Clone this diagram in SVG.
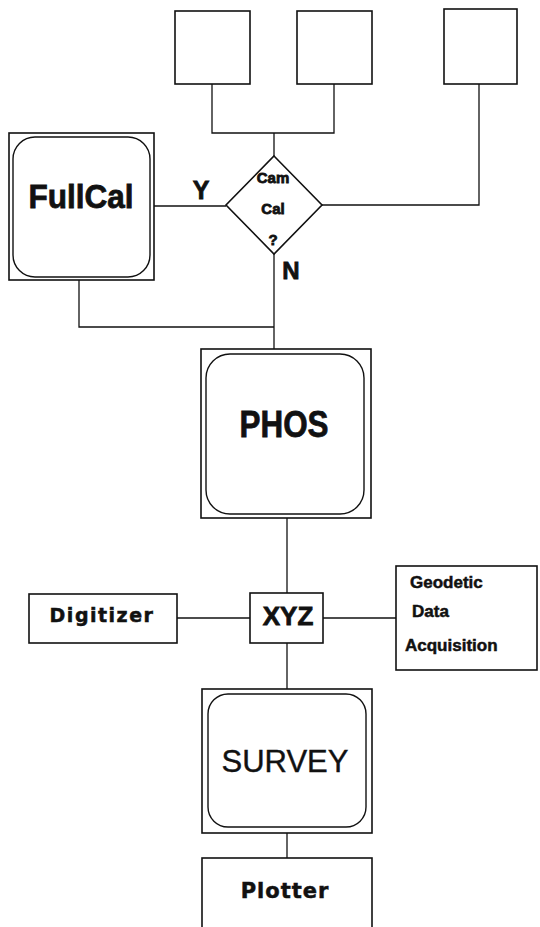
<svg xmlns="http://www.w3.org/2000/svg" width="540" height="927" viewBox="0 0 540 927">
<style>
.box{fill:#fff;stroke:#111;stroke-width:1.6}
.inner{fill:#fff;stroke:#111;stroke-width:1.4}
.ln{fill:none;stroke:#111;stroke-width:1.3}
.t{font-family:"Liberation Sans",Arial,sans-serif;font-weight:bold;fill:#111;stroke:#111;stroke-width:0.8;text-anchor:middle}
.d{font-family:"DejaVu Sans",sans-serif;font-weight:bold;fill:#111;stroke:#111;stroke-width:0.5;text-anchor:middle}
.r{font-family:"Liberation Sans",Arial,sans-serif;fill:#111;stroke:#111;stroke-width:0.4;text-anchor:middle}
.l{font-family:"Liberation Sans",Arial,sans-serif;font-weight:bold;fill:#111;stroke:#111;stroke-width:0.5}
</style>
<rect width="540" height="927" fill="#fff"/>
<g id="connectors">
<path class="ln" d="M212,84 V133 H334 V84 M274,133 V156"/>
<path class="ln" d="M479,84 V205 H322"/>
<path class="ln" d="M154,206 H226"/>
<path class="ln" d="M274,254 V349"/>
<path class="ln" d="M79,280 V327 H274"/>
<path class="ln" d="M287,518 V593"/>
<path class="ln" d="M177,618 H250"/>
<path class="ln" d="M323,618 H396"/>
<path class="ln" d="M287,643 V689"/>
<path class="ln" d="M287,833 V858"/>
</g>
<g id="box1"><rect class="box" x="175" y="11" width="75" height="73"/></g>
<g id="box2"><rect class="box" x="297" y="11" width="75" height="73"/></g>
<g id="box3"><rect class="box" x="444" y="9" width="73" height="75"/></g>
<g id="camcal">
<polygon class="box" points="274,156 322,205 274,254 226,205"/>
<text class="t" x="273" y="183" font-size="15" stroke-width="0.6">Cam</text>
<text class="t" x="273" y="214" font-size="15" stroke-width="0.6">Cal</text>
<text class="t" x="273" y="245" font-size="15" stroke-width="0.6">?</text>
</g>
<g id="labels">
<text class="t" x="201" y="199" font-size="25">Y</text>
<text class="t" x="291" y="279" font-size="24">N</text>
</g>
<g id="fullcal">
<rect class="box" x="9" y="133" width="145" height="147"/>
<rect class="inner" x="13" y="137" width="137" height="140" rx="22"/>
<text class="t" x="81" y="208" font-size="34" textLength="105" lengthAdjust="spacingAndGlyphs">FullCal</text>
</g>
<g id="phos">
<rect class="box" x="201" y="349" width="170" height="169"/>
<rect class="inner" x="206" y="354" width="158" height="160" rx="24"/>
<text class="t" x="284" y="437" font-size="37" textLength="89" lengthAdjust="spacingAndGlyphs">PHOS</text>
</g>
<g id="digitizer">
<rect class="box" x="29" y="594" width="148" height="49"/>
<text class="d" x="102" y="622" font-size="19" letter-spacing="1.5">Digitizer</text>
</g>
<g id="xyz">
<rect class="box" x="250" y="593" width="73" height="50"/>
<text class="t" x="288" y="625" font-size="26">XYZ</text>
</g>
<g id="geodetic">
<rect class="box" x="396" y="566" width="141" height="104"/>
<text class="l" x="410" y="588" font-size="17">Geodetic</text>
<text class="l" x="412" y="617" font-size="17">Data</text>
<text class="l" x="405" y="651" font-size="17">Acquisition</text>
</g>
<g id="survey">
<rect class="box" x="202" y="689" width="170" height="144"/>
<rect class="inner" x="208" y="694" width="158" height="133" rx="20"/>
<text class="r" x="285" y="772" font-size="31">SURVEY</text>
</g>
<g id="plotter">
<rect class="box" x="202" y="858" width="170" height="80"/>
<text class="d" x="285" y="898" font-size="21" letter-spacing="1">Plotter</text>
</g>
</svg>
